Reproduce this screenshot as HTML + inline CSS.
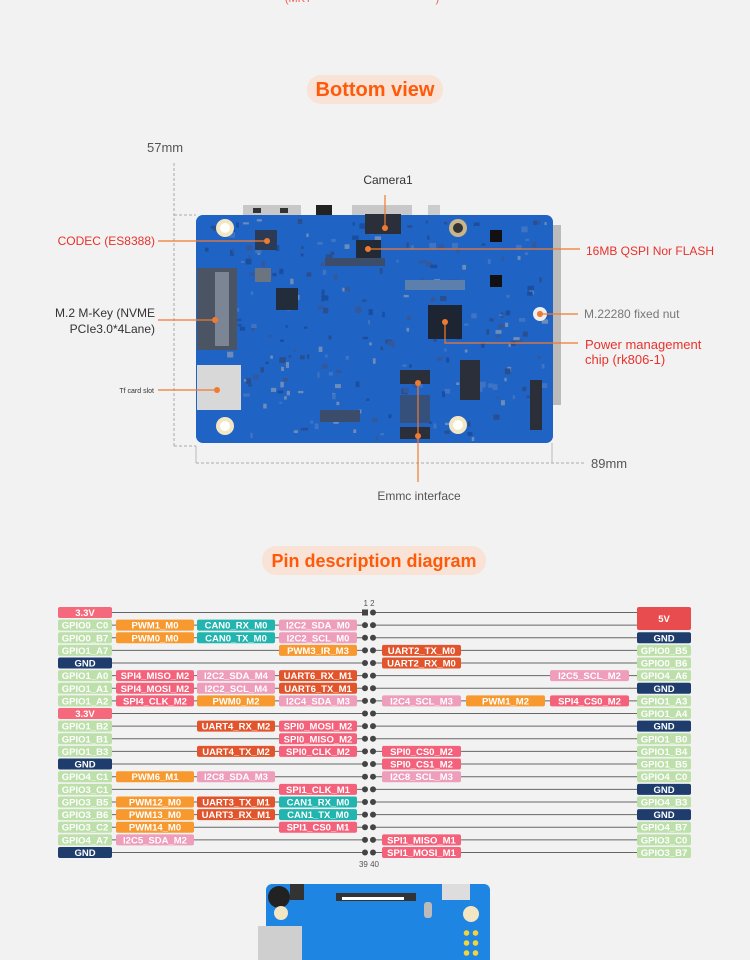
<!DOCTYPE html>
<html><head><meta charset="utf-8"><style>
html,body{margin:0;padding:0;background:#f2f2f2;}
svg{display:block;font-family:"Liberation Sans","Noto Sans CJK SC",sans-serif;}
</style></head><body>
<svg width="750" height="960" viewBox="0 0 750 960" xmlns="http://www.w3.org/2000/svg">
<rect width="750" height="960" fill="#f2f2f2"/>
<text x="362" y="2" text-anchor="middle" font-size="11" fill="#f0605a">(MKT · ··········· ·· ·········· ··· · )</text>

<rect x="307" y="75" width="136" height="29" rx="14" fill="#f9e2d6"/>
<text x="375" y="96" text-anchor="middle" font-size="20" font-weight="bold" fill="#ff5a0a">Bottom view</text>

<text x="147" y="152" font-size="13" fill="#555">57mm</text>
<path d="M174 163 V446 M174 215 H196 M174 446 H196" stroke="#aaa" stroke-dasharray="3,2" fill="none"/>
<path d="M196 446 V463 M552 443 V463" stroke="#bbb" fill="none"/>
<path d="M196 463 H585" stroke="#aaa" stroke-dasharray="3,2"/>
<text x="591" y="468" font-size="13" fill="#555">89mm</text>

<rect x="243" y="205" width="58" height="14" fill="#c8c8c8"/>
<rect x="253" y="208" width="8" height="5" fill="#333"/><rect x="280" y="208" width="8" height="5" fill="#333"/>
<rect x="316" y="205" width="16" height="12" fill="#222"/>
<rect x="352" y="205" width="60" height="14" fill="#c8c8c8"/>
<rect x="428" y="205" width="12" height="12" fill="#ccc"/>
<rect x="553" y="225" width="8" height="180" fill="#bbb"/>

<rect x="196" y="215" width="357" height="228" rx="7" fill="#1f63c4"/>
<g id="tex"></g>
<rect x="197" y="268" width="40" height="82" fill="#4a5462"/>
<rect x="215" y="272" width="14" height="74" fill="#7c8594"/>
<rect x="197" y="365" width="44" height="45" fill="#d8d8d8"/>
<circle cx="225" cy="228" r="9" fill="#f3e6c3"/><circle cx="225" cy="228" r="5" fill="#fff"/>
<circle cx="225" cy="426" r="9" fill="#f3e6c3"/><circle cx="225" cy="426" r="5" fill="#fff"/>
<circle cx="458" cy="425" r="9" fill="#f3e6c3"/><circle cx="458" cy="425" r="5" fill="#fff"/>
<circle cx="458" cy="228" r="9" fill="#c9b58a"/><circle cx="458" cy="228" r="5" fill="#333"/>
<circle cx="540" cy="314" r="7" fill="#eee"/><circle cx="540" cy="314" r="3" fill="#aaa"/>
<rect x="365" y="214" width="36" height="20" fill="#2a2f3a"/>
<rect x="356" y="240" width="25" height="18" fill="#222a35"/>
<rect x="255" y="230" width="22" height="20" fill="#2b3a55"/>
<rect x="428" y="305" width="34" height="34" fill="#1d2533"/>
<rect x="276" y="288" width="22" height="22" fill="#232c3a"/>
<rect x="255" y="268" width="16" height="14" fill="#6c7480"/>
<rect x="400" y="370" width="30" height="14" fill="#2a2f3a"/>
<rect x="400" y="395" width="30" height="28" fill="#35507a"/>
<rect x="400" y="427" width="30" height="12" fill="#2a2f3a"/>
<rect x="405" y="280" width="60" height="10" fill="#5d7fae"/>
<rect x="325" y="258" width="60" height="8" fill="#3b4d6b"/>
<rect x="490" y="230" width="12" height="12" fill="#111"/><rect x="490" y="275" width="12" height="12" fill="#111"/>
<rect x="530" y="380" width="12" height="50" fill="#2a2f3a"/>
<rect x="320" y="410" width="40" height="12" fill="#3b4d6b"/>
<rect x="460" y="360" width="20" height="40" fill="#2a2f3a"/>

<g stroke="#f07a30" stroke-width="1.2" fill="none">
<path d="M385 195 V228"/><path d="M158 241 H267"/><path d="M368 249 H580"/>
<path d="M158 320 H215"/><path d="M158 390 H217"/><path d="M540 314 H578"/>
<path d="M445 322 V343 H578"/><path d="M418 383 V482"/>
</g>
<g fill="#f07a30">
<circle cx="385" cy="228" r="3"/><circle cx="267" cy="241" r="3"/><circle cx="368" cy="249" r="3"/>
<circle cx="215" cy="320" r="3"/><circle cx="217" cy="390" r="3"/><circle cx="540" cy="314" r="3"/>
<circle cx="445" cy="322" r="3"/><circle cx="418" cy="383" r="3"/><circle cx="418" cy="436" r="3"/>
</g>
<text x="388" y="184" text-anchor="middle" font-size="12" fill="#333">Camera1</text>
<text x="155" y="245" text-anchor="end" font-size="12" fill="#e8322c">CODEC (ES8388)</text>
<text x="586" y="255" font-size="12" fill="#e8322c">16MB QSPI Nor FLASH</text>
<text x="155" y="317" text-anchor="end" font-size="12" fill="#333">M.2 M-Key (NVME</text>
<text x="155" y="333" text-anchor="end" font-size="12" fill="#333">PCIe3.0*4Lane)</text>
<text x="154" y="393" text-anchor="end" font-size="7" fill="#333">Tf card slot</text>
<text x="584" y="318" font-size="12" fill="#777">M.22280 fixed nut</text>
<text x="585" y="349" font-size="13" fill="#e8322c">Power management</text>
<text x="585" y="364" font-size="13" fill="#e8322c">chip (rk806-1)</text>
<text x="419" y="500" text-anchor="middle" font-size="12" fill="#555">Emmc interface</text>

<rect x="262" y="546" width="224" height="29" rx="14" fill="#f9e2d6"/>
<text x="374" y="567" text-anchor="middle" font-size="18" font-weight="bold" fill="#ff5a0a">Pin description diagram</text>

<g id="pins" font-size="9.5" font-weight="bold" fill="#fff" text-anchor="middle"></g>
</svg>
<script>
(function(){
var seed=7;function rnd(){seed=(seed*9301+49297)%233280;return seed/233280;}
var t="";var cols=["#3f74c4","#2a4f8f","#6e8cb8","#1a4fa0","#34589a"];
for(var i=0;i<260;i++){var x=200+rnd()*345,y=219+rnd()*220;var w=2+rnd()*5,h=2+rnd()*4;
t+='<rect x="'+x.toFixed(1)+'" y="'+y.toFixed(1)+'" width="'+w.toFixed(1)+'" height="'+h.toFixed(1)+'" fill="'+cols[Math.floor(rnd()*5)]+'"/>';}
document.getElementById("tex").innerHTML=t;
var C={g:"#bde0ab",p:"#f4697b",n:"#1e3d6c",o:"#f7992f",t:"#22b4ae",l:"#ee9dbb",r:"#e2552c",c:"#f4617a",v:"#e84c4f"};
var L=[["3.3V:p"],["GPIO0_C0:g","PWM1_M0:o","CAN0_RX_M0:t","I2C2_SDA_M0:l"],["GPIO0_B7:g","PWM0_M0:o","CAN0_TX_M0:t","I2C2_SCL_M0:l"],
["GPIO1_A7:g","","","PWM3_IR_M3:o"],["GND:n"],["GPIO1_A0:g","SPI4_MISO_M2:c","I2C2_SDA_M4:l","UART6_RX_M1:r"],
["GPIO1_A1:g","SPI4_MOSI_M2:c","I2C2_SCL_M4:l","UART6_TX_M1:r"],["GPIO1_A2:g","SPI4_CLK_M2:c","PWM0_M2:o","I2C4_SDA_M3:l"],
["3.3V:p"],["GPIO1_B2:g","","UART4_RX_M2:r","SPI0_MOSI_M2:c"],["GPIO1_B1:g","","","SPI0_MISO_M2:c"],
["GPIO1_B3:g","","UART4_TX_M2:r","SPI0_CLK_M2:c"],["GND:n"],["GPIO4_C1:g","PWM6_M1:o","I2C8_SDA_M3:l",""],
["GPIO3_C1:g","","","SPI1_CLK_M1:c"],["GPIO3_B5:g","PWM12_M0:o","UART3_TX_M1:r","CAN1_RX_M0:t"],
["GPIO3_B6:g","PWM13_M0:o","UART3_RX_M1:r","CAN1_TX_M0:t"],["GPIO3_C2:g","PWM14_M0:o","","SPI1_CS0_M1:c"],
["GPIO4_A7:g","I2C5_SDA_M2:l","",""],["GND:n"]];
var R=[["","","",""],["","","",""],["","","","GND:n"],["UART2_TX_M0:r","","","GPIO0_B5:g"],["UART2_RX_M0:r","","","GPIO0_B6:g"],
["","","I2C5_SCL_M2:l","GPIO4_A6:g"],["","","","GND:n"],["I2C4_SCL_M3:l","PWM1_M2:o","SPI4_CS0_M2:c","GPIO1_A3:g"],
["","","","GPIO1_A4:g"],["","","","GND:n"],["","","","GPIO1_B0:g"],["SPI0_CS0_M2:c","","","GPIO1_B4:g"],
["SPI0_CS1_M2:c","","","GPIO1_B5:g"],["I2C8_SCL_M3:l","","","GPIO4_C0:g"],["","","","GND:n"],["","","","GPIO4_B3:g"],
["","","","GND:n"],["","","","GPIO4_B7:g"],["SPI1_MISO_M1:c","","","GPIO3_C0:g"],["SPI1_MOSI_M1:c","","","GPIO3_B7:g"]];
var LX=[[58,54],[116,78],[197,78],[279,78]],RX=[[382,79],[466,79],[550,79],[637,54]];
var s="";
function box(x,w,y,spec){if(!spec)return "";var a=spec.split(":");var h=11;
return '<rect x="'+x+'" y="'+(y-h/2)+'" width="'+w+'" height="'+h+'" rx="2" fill="'+C[a[1]]+'"/><text x="'+(x+w/2)+'" y="'+(y+3.5)+'">'+a[0]+'</text>';}
for(var i=0;i<20;i++){var y=612.5+i*12.63;
s+='<line x1="110" y1="'+y+'" x2="365" y2="'+y+'" stroke="#666" stroke-width="1"/>';
s+='<line x1="373" y1="'+y+'" x2="640" y2="'+y+'" stroke="#666" stroke-width="1"/>';
for(var k=0;k<4;k++)s+=box(LX[k][0],LX[k][1],y,L[i][k]||"");
for(var k=0;k<4;k++)s+=box(RX[k][0],RX[k][1],y,R[i][k]||"");
if(i==0)s+='<rect x="362" y="'+(y-3)+'" width="6" height="6" fill="#444"/>';else s+='<circle cx="365" cy="'+y+'" r="3" fill="#444"/>';
s+='<circle cx="373" cy="'+y+'" r="3" fill="#444"/>';}
s+='<rect x="637" y="607" width="54" height="23" rx="2" fill="#e84c4f"/><text x="664" y="622">5V</text>';
s+='<text x="369" y="606" font-size="8" font-weight="normal" fill="#555">1 2</text>';
s+='<text x="369" y="867" font-size="8" font-weight="normal" fill="#555">39 40</text>';
document.getElementById("pins").innerHTML=s;})();
</script>
<div style="position:absolute;left:266px;top:884px;width:224px;height:76px;background:#1e86e2;border-radius:6px 6px 0 0;">
<div style="position:absolute;left:2px;top:2px;width:22px;height:22px;border-radius:50%;background:#222;"></div>
<div style="position:absolute;left:24px;top:0;width:14px;height:16px;background:#333;"></div>
<div style="position:absolute;left:70px;top:9px;width:80px;height:8px;background:#333;"></div>
<div style="position:absolute;left:76px;top:13px;width:62px;height:3px;background:#fff;"></div>
<div style="position:absolute;left:176px;top:0;width:28px;height:16px;background:#ddd;"></div>
<div style="position:absolute;left:8px;top:22px;width:14px;height:14px;border-radius:50%;background:#f3e6c3;"></div>
<div style="position:absolute;left:197px;top:22px;width:16px;height:16px;border-radius:50%;background:#f3e6c3;"></div>
<div style="position:absolute;left:158px;top:18px;width:8px;height:16px;border-radius:3px;background:#bbb;"></div>
<div style="position:absolute;left:-8px;top:42px;width:44px;height:34px;background:#cfcfcf;"></div>
<div style="position:absolute;left:196px;top:44px;width:18px;height:32px;background:radial-gradient(circle,#f4d43a 2.5px,transparent 3px) 0 0/9px 10px;"></div>
</div>
</body></html>
